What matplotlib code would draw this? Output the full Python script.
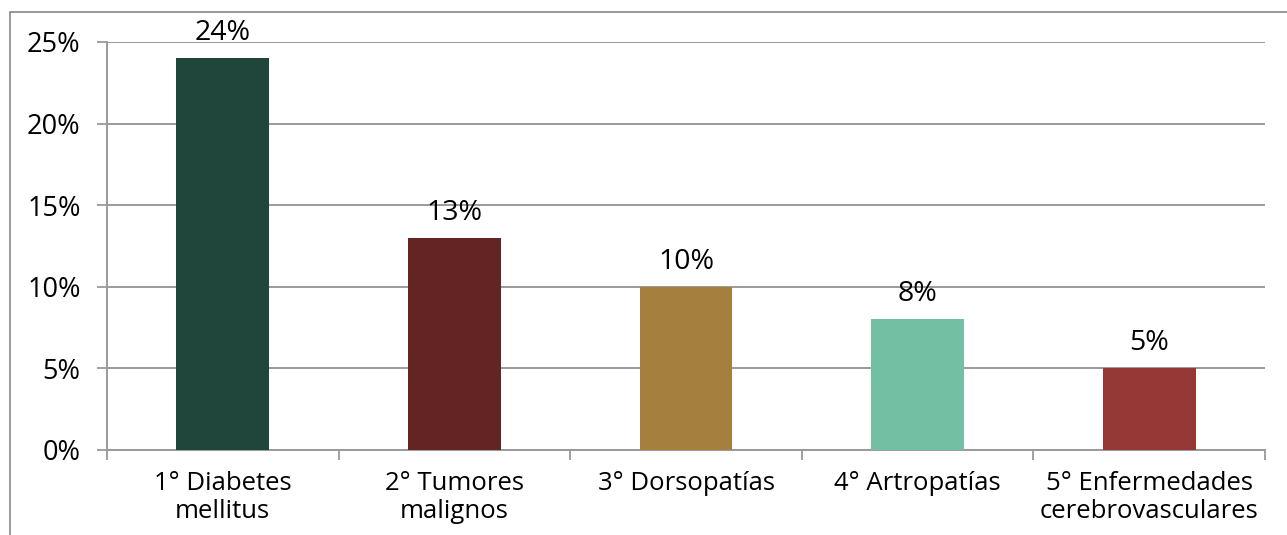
import numpy as np
import matplotlib.pyplot as plt
from matplotlib.patches import Rectangle
from matplotlib.ticker import PercentFormatter

categories = ["1° Diabetes\nmellitus", "2° Tumores\nmalignos", "3° Dorsopatías",
              "4° Artropatías", "5° Enfermedades\ncerebrovasculares"]
values = [24, 13, 10, 8, 5]
colors = ["#20453A", "#632524", "#A57F3D", "#72BFA3", "#963836"]

plt.rcParams['font.family'] = ['Open Sans', 'DejaVu Sans']

W, H = 1287, 535
fig = plt.figure(figsize=(W / 100, H / 100), dpi=100)
ax = fig.add_axes([107 / W, 1 - 450 / H, (1265 - 107) / W, (450 - 42) / H])

x = np.arange(len(values))
ax.bar(x, values, width=0.4, color=colors, zorder=3)

for xi, v in zip(x, values):
    ax.annotate(f"{v}%", (xi, v), xytext=(0, 18), textcoords="offset points",
                ha="center", va="center", fontsize=20.5)

ax.set_xlim(-0.5, len(values) - 0.5)
ax.set_ylim(0, 25)
ax.set_yticks(np.arange(0, 26, 5))
ax.yaxis.set_major_formatter(PercentFormatter(decimals=0))
ax.grid(axis="y", color="#9a9a9a", linewidth=1.4, zorder=0)

# category labels centred, tick marks on the boundaries
ax.set_xticks(x)
ax.set_xticklabels(categories, fontsize=18.5, linespacing=1.17)
ax.tick_params(axis="x", length=0, pad=15)
ax.set_xticks(np.arange(-0.5, len(values)), minor=True)
ax.tick_params(axis="x", which="minor", length=7, width=1.3, color="#9a9a9a")
ax.tick_params(axis="y", length=7, width=1.3, color="#9a9a9a", labelsize=19.5, pad=12)

for side in ["top", "right"]:
    ax.spines[side].set_visible(False)
for side in ["left", "bottom"]:
    ax.spines[side].set_color("#9a9a9a")
    ax.spines[side].set_linewidth(1.4)

# outer frame of the chart area
fig.patches.append(Rectangle((10 / W, -0.1), 1.1, 1 - 12 / H + 0.1, transform=fig.transFigure,
                             fill=False, edgecolor="#888888", linewidth=1.2))

fig.savefig("out.png", dpi=100)
